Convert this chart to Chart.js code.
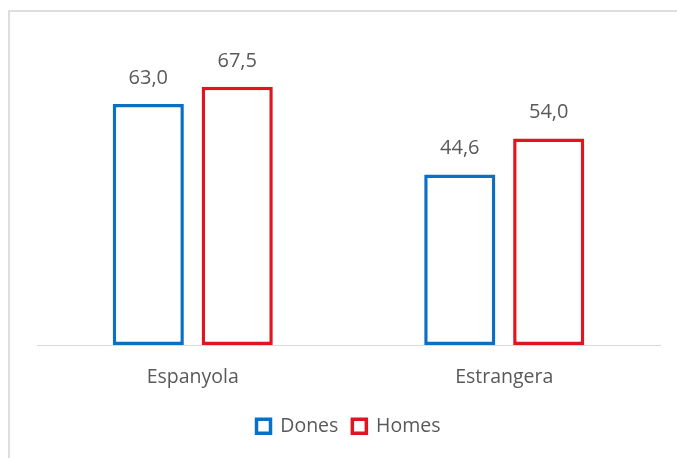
<!DOCTYPE html>
<html lang="ca">
<head>
  <meta charset="UTF-8" />
  <title>Dones i homes</title>
  <script src="https://cdn.jsdelivr.net/npm/chart.js@4.4.0/dist/chart.umd.min.js"></script>
  <style>
    * { margin: 0; padding: 0; box-sizing: border-box; }
    body { width: 677px; height: 458px; background: #ffffff; overflow: hidden; position: relative; }
    /* chart frame (only left and top edges fall inside the picture) */
    .frame {
      position: absolute;
      left: 8px;
      top: 10px;
      width: 700px;
      height: 470px;
      border: 2px solid #dedede;
    }
    .chart-wrap { position: absolute; left: 0; top: 0; width: 677px; height: 458px; }
  </style>
</head>
<body>
  <div class="frame"></div>
  <div class="chart-wrap">
    <canvas id="chart" width="677" height="458"></canvas>
  </div>

  <script>
    // Data
    const categories = ['Espanyola', 'Estrangera'];
    const seriesNames = ['Dones', 'Homes'];
    const dones = [63.0, 44.6];
    const homes = [67.5, 54.0];

    const blue = '#0a70c4';
    const red = '#e0151f';
    const textColor = '#595959';
    const fontFamily = "'Open Sans', sans-serif";

    // value labels with a decimal comma, drawn above each bar
    const valueLabels = {
      id: 'valueLabels',
      afterDatasetsDraw(chart) {
        const ctx = chart.ctx;
        ctx.save();
        ctx.font = '20px ' + fontFamily;
        ctx.fillStyle = textColor;
        ctx.textAlign = 'center';
        ctx.textBaseline = 'middle';
        chart.data.datasets.forEach((ds, i) => {
          chart.getDatasetMeta(i).data.forEach((bar, j) => {
            ctx.fillText(ds.data[j].toFixed(1).replace('.', ','), bar.x, bar.y - 26);
          });
        });
        ctx.restore();
      }
    };

    const ctx = document.getElementById('chart').getContext('2d');
    new Chart(ctx, {
      type: 'bar',
      data: {
        labels: categories,
        datasets: [
          {
            label: seriesNames[0],
            data: dones,
            backgroundColor: '#ffffff',
            borderColor: blue,
            borderWidth: 3.5,
            borderSkipped: false
          },
          {
            label: seriesNames[1],
            data: homes,
            backgroundColor: '#ffffff',
            borderColor: red,
            borderWidth: 3.5,
            borderSkipped: false
          }
        ]
      },
      options: {
        responsive: false,
        animation: false,
        categoryPercentage: 0.571,
        barPercentage: 0.8,
        layout: { padding: { left: 37, right: 17, top: 39, bottom: 12 } },
        scales: {
          x: {
            grid: { display: false },
            border: { color: '#d9d9d9', width: 1 },
            ticks: { color: textColor, font: { size: 19.5, family: fontFamily }, padding: 13 }
          },
          y: {
            display: false,
            min: 0,
            max: 80
          }
        },
        plugins: {
          legend: {
            position: 'bottom',
            labels: {
              color: textColor,
              font: { size: 19.5, family: fontFamily },
              boxWidth: 14,
              boxHeight: 14,
              padding: 14
            }
          },
          tooltip: { enabled: false }
        }
      },
      plugins: [valueLabels]
    });
  </script>
</body>
</html>
